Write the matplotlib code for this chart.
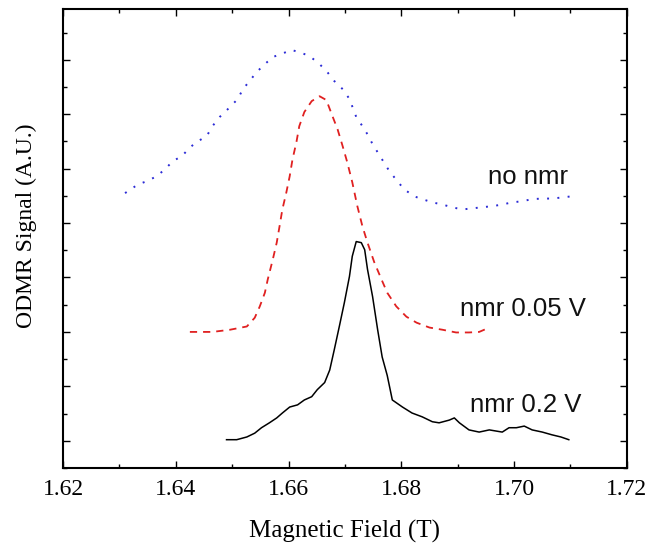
import matplotlib
matplotlib.use("Agg")
import matplotlib.pyplot as plt
from matplotlib.ticker import MultipleLocator, NullFormatter

# ---- data ----
no_nmr_x = [1.6310, 1.6333, 1.6349, 1.6366, 1.6381, 1.6395, 1.6411, 1.6425, 1.6439, 1.6455,
            1.6465, 1.6478, 1.6494, 1.6510, 1.6519, 1.6531, 1.6543, 1.6558, 1.6572, 1.6588,
            1.6605, 1.6619, 1.6637, 1.6655, 1.6669, 1.6681, 1.6696, 1.6708, 1.6720, 1.6731,
            1.6740, 1.6749, 1.6758, 1.6779, 1.6793, 1.6805, 1.6823, 1.6837, 1.6855, 1.6873,
            1.6890, 1.6908, 1.6926, 1.6943, 1.6961, 1.6979, 1.6996, 1.7014, 1.7032, 1.7050,
            1.7067, 1.7085, 1.7101]
no_nmr_y = [5.05, 5.21, 5.27, 5.36, 5.49, 5.64, 5.73, 5.89, 6.00, 6.10,
            6.28, 6.45, 6.61, 6.78, 6.96, 7.11, 7.27, 7.42, 7.55, 7.61,
            7.68, 7.64, 7.57, 7.42, 7.27, 7.11, 6.96, 6.78, 6.45, 6.28,
            6.13, 5.95, 5.80, 5.45, 5.27, 5.12, 4.99, 4.94, 4.88, 4.84,
            4.79, 4.75, 4.77, 4.79, 4.81, 4.84, 4.88, 4.90, 4.94, 4.95,
            4.95, 4.97, 4.99]

nmr005_x = [1.6425, 1.6465, 1.6496, 1.6526, 1.6540, 1.6549, 1.6558, 1.6563, 1.6572, 1.6579,
            1.6584, 1.6589, 1.6596, 1.6602, 1.6607, 1.6614, 1.6619, 1.6628, 1.6641, 1.6655,
            1.6667, 1.6678, 1.6687, 1.6696, 1.6704, 1.6713, 1.6722, 1.6731, 1.6740, 1.6752,
            1.6765, 1.6775, 1.6791, 1.6809, 1.6827, 1.6850, 1.6873, 1.6897, 1.6920, 1.6938,
            1.6956]
nmr005_y = [2.50, 2.50, 2.54, 2.60, 2.76, 2.97, 3.22, 3.46, 3.83, 4.14,
            4.44, 4.75, 5.06, 5.36, 5.67, 5.99, 6.28, 6.54, 6.74, 6.83,
            6.76, 6.46, 6.22, 5.91, 5.62, 5.25, 4.81, 4.44, 4.14, 3.78,
            3.46, 3.22, 2.97, 2.78, 2.67, 2.58, 2.54, 2.49, 2.49, 2.50,
            2.58]

nmr02_x = [1.6490, 1.6508, 1.6526, 1.6540, 1.6552, 1.6566, 1.6579, 1.6589, 1.6602, 1.6616,
           1.6628, 1.6641, 1.6651, 1.6664, 1.6673, 1.6681, 1.6690, 1.6699, 1.6708, 1.6713,
           1.6720, 1.6729, 1.6735, 1.6740, 1.6749, 1.6758, 1.6766, 1.6775, 1.6784, 1.6802,
           1.6819, 1.6837, 1.6855, 1.6867, 1.6885, 1.6894, 1.6903, 1.6920, 1.6938, 1.6956,
           1.6979, 1.6991, 1.7004, 1.7018, 1.7032, 1.7050, 1.7067, 1.7083, 1.7097]
nmr02_y = [0.52, 0.52, 0.57, 0.64, 0.74, 0.83, 0.92, 1.01, 1.12, 1.16,
           1.25, 1.31, 1.44, 1.57, 1.80, 2.17, 2.60, 3.04, 3.52, 3.89,
           4.16, 4.14, 4.01, 3.65, 3.15, 2.54, 2.04, 1.70, 1.25, 1.12,
           1.01, 0.94, 0.85, 0.83, 0.88, 0.92, 0.83, 0.70, 0.66, 0.70,
           0.66, 0.74, 0.74, 0.77, 0.70, 0.66, 0.61, 0.57, 0.52]

labels = ["no nmr", "nmr 0.05 V", "nmr 0.2 V"]
label_x = [1.7025, 1.7016, 1.7021]
label_y = [5.22, 2.80, 1.02]

xticks = [1.62, 1.64, 1.66, 1.68, 1.70, 1.72]
xticklabels = ["1.62", "1.64", "1.66", "1.68", "1.70", "1.72"]

# ---- figure ----
fig = plt.figure(figsize=(6.53, 5.44), dpi=100)
ax = fig.add_axes([0.0965, 0.1397, 0.8635, 0.8435])

ax.plot(no_nmr_x, no_nmr_y, color="#2b2bd6", lw=1.4, linestyle=(0, (1, 4.3)))
ax.plot(nmr005_x, nmr005_y, color="#e02020", lw=1.3, linestyle=(0, (4, 3.3)))
ax.plot(nmr02_x, nmr02_y, color="black", lw=1.1)

for t, x, y in zip(labels, label_x, label_y):
    ax.text(x, y, t, fontsize=18.5, family="Liberation Sans", ha="center", va="baseline",
            color="#111111")

ax.set_xlim(1.62, 1.72)
ax.set_ylim(0, 8.43)
ax.set_xticks(xticks)
ax.set_xticklabels(xticklabels, family="Liberation Serif", fontsize=17)
ax.xaxis.set_minor_locator(MultipleLocator(0.01))
ax.yaxis.set_major_locator(MultipleLocator(1.0, offset=0.5))
ax.yaxis.set_minor_locator(MultipleLocator(1.0))
ax.yaxis.set_major_formatter(NullFormatter())
ax.tick_params(which="both", direction="in", top=True, right=True, width=1.0)
ax.tick_params(which="major", length=5, pad=8)
ax.tick_params(which="minor", length=3)
for s in ax.spines.values():
    s.set_linewidth(1.5)

ax.set_xlabel("Magnetic Field (T)", family="Liberation Serif", fontsize=18, labelpad=14)
ax.set_ylabel("ODMR Signal (A.U.)", family="Liberation Serif", fontsize=17)
ax.yaxis.set_label_coords(-0.047, 0.527)

fig.savefig("out.png", dpi=100)
